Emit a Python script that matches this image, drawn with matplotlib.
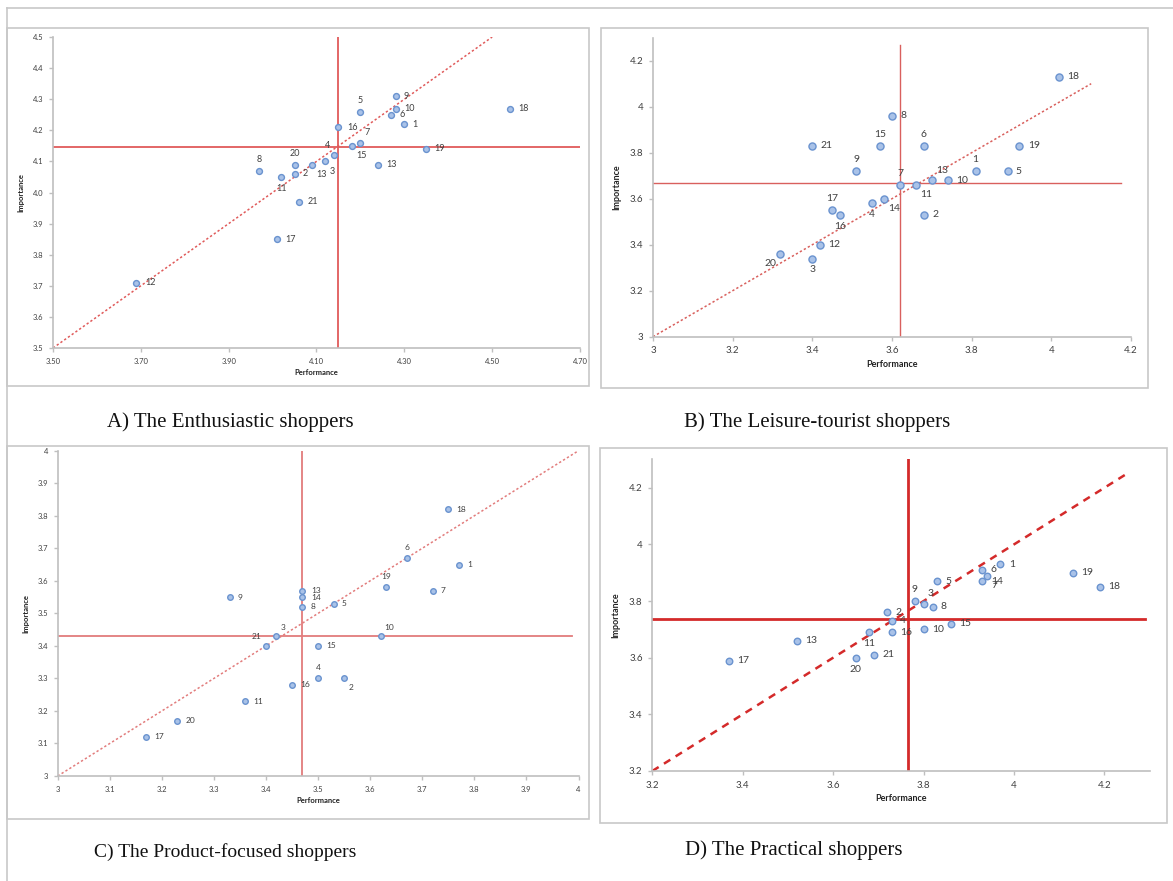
import matplotlib
matplotlib.use("Agg")
import matplotlib.pyplot as plt
from matplotlib.patches import Rectangle

W, H = 1173, 881

# ---- data: performance / importance per item, one block per segment ----
a_labels = ['1', '2', '3', '4', '5', '6', '7', '8', '9', '10', '11', '12',
            '13', '13', '15', '16', '17', '18', '19', '20', '21']
a_perf = [4.30, 4.05, 4.12, 4.14, 4.20, 4.27, 4.20, 3.97, 4.28, 4.28, 4.02, 3.69,
          4.09, 4.24, 4.18, 4.15, 4.01, 4.54, 4.35, 4.05, 4.06]
a_imp = [4.22, 4.06, 4.10, 4.12, 4.26, 4.25, 4.16, 4.07, 4.31, 4.27, 4.05, 3.71,
         4.09, 4.09, 4.15, 4.21, 3.85, 4.27, 4.14, 4.09, 3.97]
a_mean = (4.15, 4.145)

b_labels = [str(i) for i in range(1, 22)]
b_perf = [3.81, 3.68, 3.40, 3.55, 3.89, 3.68, 3.62, 3.60, 3.51, 3.74, 3.66,
          3.42, 3.70, 3.58, 3.57, 3.47, 3.45, 4.02, 3.92, 3.32, 3.40]
b_imp = [3.72, 3.53, 3.34, 3.58, 3.72, 3.83, 3.66, 3.96, 3.72, 3.68, 3.66,
         3.40, 3.68, 3.60, 3.83, 3.53, 3.55, 4.13, 3.83, 3.36, 3.83]
b_mean = (3.62, 3.667)

c_labels = ['1', '2', '3', '4', '5', '6', '7', '8', '9', '10', '11',
            '13', '14', '15', '16', '17', '18', '19', '20', '21']
c_perf = [3.77, 3.55, 3.42, 3.50, 3.53, 3.67, 3.72, 3.47, 3.33, 3.62, 3.36,
          3.47, 3.47, 3.50, 3.45, 3.17, 3.75, 3.63, 3.23, 3.40]
c_imp = [3.65, 3.30, 3.43, 3.30, 3.53, 3.67, 3.57, 3.52, 3.55, 3.43, 3.23,
         3.57, 3.55, 3.40, 3.28, 3.12, 3.82, 3.58, 3.17, 3.40]
c_mean = (3.47, 3.431)

d_labels = ['1', '2', '3', '4', '5', '6', '7', '8', '9', '10', '11',
            '13', '14', '15', '16', '17', '18', '19', '20', '21']
d_perf = [3.97, 3.72, 3.80, 3.73, 3.83, 3.93, 3.94, 3.82, 3.78, 3.80, 3.68,
          3.52, 3.93, 3.86, 3.73, 3.37, 4.19, 4.13, 3.65, 3.69]
d_imp = [3.93, 3.76, 3.79, 3.73, 3.87, 3.91, 3.89, 3.78, 3.80, 3.70, 3.69,
         3.66, 3.87, 3.72, 3.69, 3.59, 3.85, 3.90, 3.60, 3.61]
d_mean = (3.766, 3.737)

captions = ['A) The Enthusiastic shoppers', 'B) The Leisure-tourist shoppers',
            'C) The Product-focused shoppers', 'D) The Practical shoppers']

# label placement (r=right, a=above, b=below, l=left, combos)
a_pos = ['r', 'r', 'br', 'al', 'a', 'r', 'ar', 'a', 'r', 'r', 'b', 'r',
         'br', 'r', 'br', 'r', 'r', 'r', 'r', 'a', 'r']
b_pos = ['a', 'r', 'b', 'b', 'r', 'a', 'a', 'r', 'a', 'r', 'br', 'r',
         'ar', 'br', 'a', 'b', 'a', 'r', 'r', 'bl', 'r']
c_pos = ['r', 'br', 'ar', 'a', 'r', 'a', 'r', 'r', 'r', 'ar', 'r',
         'r', 'r', 'r', 'r', 'r', 'r', 'a', 'r', 'al']
d_pos = ['r', 'r', 'ar', 'r', 'r', 'r', 'br', 'r', 'a', 'r', 'b',
         'r', 'r', 'r', 'r', 'r', 'r', 'r', 'b', 'r']

OFFS = {
    'r': ((6, 0), 'left', 'center'),
    'l': ((-6, 0), 'right', 'center'),
    'a': ((0, 5), 'center', 'bottom'),
    'b': ((0, -5), 'center', 'top'),
    'ar': ((3, 4), 'left', 'bottom'),
    'al': ((-3, 4), 'right', 'bottom'),
    'br': ((3, -4), 'left', 'top'),
    'bl': ((-3, -4), 'right', 'top'),
}

plt.rcParams['font.family'] = ['Lato', 'DejaVu Sans']

fig = plt.figure(figsize=(W / 100, H / 100), dpi=100)

# background layer in pixel coords for frames and captions
bg = fig.add_axes([0, 0, 1, 1])
bg.set_xlim(0, W)
bg.set_ylim(H, 0)
bg.axis('off')
bg.plot([7, W], [8, 8], color='#c8c8c8', lw=1.2)
bg.plot([7, 7], [8, H], color='#c8c8c8', lw=1.2)
for (x0, y0, x1, y1) in [(7, 28, 589, 386), (601, 28, 1148, 388),
                         (7, 446, 589, 819), (600, 448, 1167, 823)]:
    bg.add_patch(Rectangle((x0, y0), x1 - x0, y1 - y0, fill=False,
                           ec='#c8c8c8', lw=1.2))
cap_sizes = [15, 15, 14, 15]
for txt, (cx, cy), fs in zip(captions, [(230, 422), (817, 422), (225, 852), (794, 850)],
                             cap_sizes):
    bg.text(cx, cy, txt, ha='center', va='center', fontsize=fs,
            family='Liberation Serif', color='#111111')


def px_axes(left, top, right, bottom):
    return fig.add_axes([left / W, 1 - bottom / H, (right - left) / W,
                         (bottom - top) / H])


def ipa_panel(ax, perf, imp, labels, pos, mean, xlim, ylim, xticks, yticks,
              xfmt, yfmt, diag_end, tick_fs, lab_fs, axlab_fs, msize,
              line_color, line_w, diag_style, diag_w, hline_end=None, vline_top=None):
    ax.set_facecolor('none')
    ax.set_xlim(*xlim)
    ax.set_ylim(*ylim)
    for s in ['top', 'right']:
        ax.spines[s].set_visible(False)
    for s in ['left', 'bottom']:
        ax.spines[s].set_color('#bfbfbf')
        ax.spines[s].set_linewidth(1.2)
    ax.set_xticks(xticks)
    ax.set_yticks(yticks)
    ax.set_xticklabels([xfmt.format(round(v, 2)) for v in xticks])
    ax.set_yticklabels([yfmt.format(round(v, 2)) for v in yticks])
    ax.tick_params(length=3, width=1, color='#bfbfbf', labelsize=tick_fs,
                   labelcolor='#404040', pad=4)
    ax.set_xlabel('Performance', fontsize=axlab_fs, fontweight='bold',
                  color='#222222', labelpad=3)
    ax.set_ylabel('Importance', fontsize=axlab_fs, fontweight='bold',
                  color='#222222', labelpad=6)

    # diagonal iso-line
    ax.plot([xlim[0], diag_end], [ylim[0], diag_end], color=line_color,
            lw=diag_w, ls=diag_style, zorder=2)
    # mean lines
    hx1 = hline_end if hline_end is not None else xlim[1]
    vy1 = vline_top if vline_top is not None else ylim[1]
    ax.plot([xlim[0], hx1], [mean[1], mean[1]], color=line_color, lw=line_w, zorder=2)
    ax.plot([mean[0], mean[0]], [ylim[0], vy1], color=line_color, lw=line_w, zorder=2)

    ax.scatter(perf, imp, s=msize, facecolor='#a9c2e8', edgecolor='#6a93cf',
               linewidth=1.0, zorder=3, clip_on=False)
    for x, y, lab, p in zip(perf, imp, labels, pos):
        off, ha, va = OFFS[p]
        ax.annotate(lab, (x, y), xytext=off, textcoords='offset points',
                    ha=ha, va=va, fontsize=lab_fs, color='#404040', zorder=4)


# A
axA = px_axes(53, 37, 580, 348)
ipa_panel(axA, a_perf, a_imp, a_labels, a_pos, a_mean,
          (3.5, 4.7), (3.5, 4.5),
          [3.5, 3.7, 3.9, 4.1, 4.3, 4.5, 4.7], [3.5 + 0.1 * i for i in range(11)],
          '{:.2f}', '{:.1f}', 4.5, 5.5, 6.5, 5.5, 18,
          '#e05a5a', 1.3, (0, (1.5, 1.5)), 1.1)

# B
axB = px_axes(653, 37.7, 1131, 336.7)
ipa_panel(axB, b_perf, b_imp, b_labels, b_pos, b_mean,
          (3.0, 4.2), (3.0, 4.3),
          [3.0, 3.2, 3.4, 3.6, 3.8, 4.0, 4.2], [3.0, 3.2, 3.4, 3.6, 3.8, 4.0, 4.2],
          '{:g}', '{:g}', 4.1, 7, 7.5, 6.5, 26,
          '#d9605d', 1.0, (0, (1.5, 1.5)), 1.1, hline_end=4.175, vline_top=4.27)

# C
axC = px_axes(57.7, 450.7, 578.5, 776)
ipa_panel(axC, c_perf, c_imp, c_labels, c_pos, c_mean,
          (3.0, 4.0), (3.0, 4.0),
          [3.0 + 0.1 * i for i in range(11)], [3.0 + 0.1 * i for i in range(11)],
          '{:g}', '{:g}', 4.0, 5.5, 6, 5.5, 16,
          '#e27c7c', 1.3, (0, (1.5, 1.5)), 1.1, hline_end=3.987)

# D
axD = px_axes(652.3, 459.4, 1149.7, 771)
ipa_panel(axD, d_perf, d_imp, d_labels, d_pos, d_mean,
          (3.2, 4.3), (3.2, 4.3),
          [3.2, 3.4, 3.6, 3.8, 4.0, 4.2], [3.2, 3.4, 3.6, 3.8, 4.0, 4.2],
          '{:g}', '{:g}', 4.25, 7, 7.5, 6.5, 22,
          '#d42a2a', 2.0, (0, (3, 2.5)), 1.8, hline_end=4.29)

fig.savefig('out.png', dpi=100, facecolor='white')
